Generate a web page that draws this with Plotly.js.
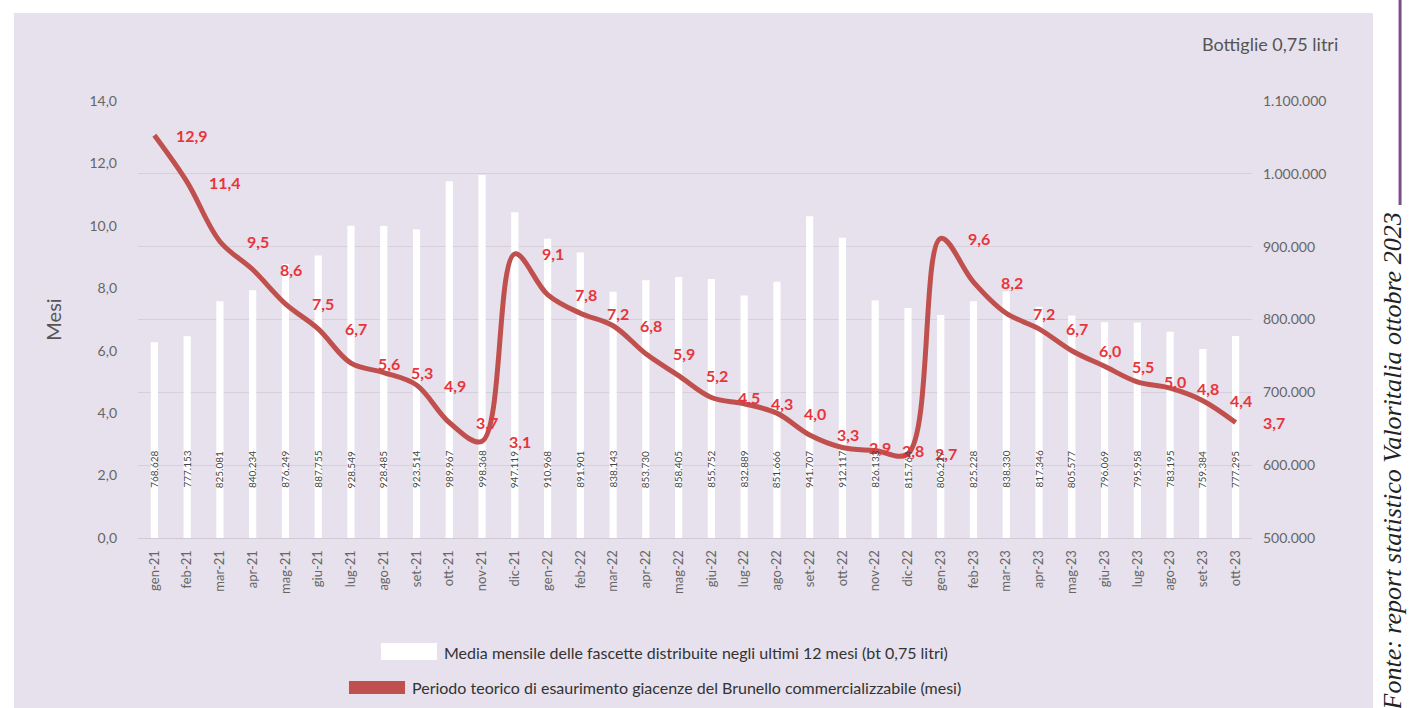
<!DOCTYPE html>
<html>
<head>
<meta charset="utf-8">
<script src="https://cdn.plot.ly/plotly-3.0.1.min.js"></script>
<style>
html,body{margin:0;padding:0;background:#ffffff;width:1410px;height:708px;overflow:hidden;}
#panel{position:absolute;left:14px;top:13px;width:1359px;height:695px;background:#e6e1ec;}
#chart{position:absolute;left:0;top:0;width:1410px;height:708px;}
</style>
</head>
<body>
<div id="panel"></div>
<div id="chart"></div>
<script>
const months = ["gen-21","feb-21","mar-21","apr-21","mag-21","giu-21","lug-21","ago-21","set-21","ott-21","nov-21","dic-21",
"gen-22","feb-22","mar-22","apr-22","mag-22","giu-22","lug-22","ago-22","set-22","ott-22","nov-22","dic-22",
"gen-23","feb-23","mar-23","apr-23","mag-23","giu-23","lug-23","ago-23","set-23","ott-23"];

const fascette = [768628,777153,825081,840234,876249,887755,928549,928485,923514,989967,998368,947119,
910968,891901,838143,853730,858405,855752,832889,851666,941707,912117,826133,815764,
806227,825228,838330,817346,805577,796069,795958,783195,759384,777295];

const mesi = [12.9,11.4,9.5,8.6,7.5,6.7,5.6,5.3,4.9,3.7,3.1,9.1,
7.8,7.2,6.8,5.9,5.2,4.5,4.3,4.0,3.3,2.9,2.8,2.7,
9.6,8.2,7.2,6.7,6.0,5.5,5.0,4.8,4.4,3.7];

const legendBars = "Media mensile delle fascette distribuite negli ultimi 12 mesi (bt 0,75 litri)";
const legendLine = "Periodo teorico di esaurimento giacenze del Brunello commercializzabile (mesi)";
const unitNote = "Bottiglie 0,75 litri";
const sourceNote = "Fonte: report statistico Valoritalia ottobre 2023";

function fmtThousands(n){ return String(n).replace(/\B(?=(\d{3})+(?!\d))/g, "."); }
function fmtDec(v){ return v.toFixed(1).replace(".", ","); }

const FONT = "Lato, 'Open Sans', sans-serif";

const barTrace = {
  type: "bar", x: months, y: fascette, yaxis: "y",
  marker: {color: "#ffffff"}, width: 0.22, hoverinfo: "skip", showlegend: false
};
const lineTrace = {
  type: "scatter", mode: "lines", x: months, y: mesi, yaxis: "y2",
  line: {color: "#c0504d", width: 5, shape: "spline", smoothing: 1.0},
  hoverinfo: "skip", showlegend: false
};

const annotations = [];
months.forEach((m, i) => {
  annotations.push({
    x: m, xref: "x", y: 0.11, yref: "paper", text: fmtThousands(fascette[i]),
    textangle: -90, showarrow: false, font: {family: FONT, size: 10, color: "#444444"}
  });
  annotations.push({
    x: m, xref: "x", y: mesi[i], yref: "y2", text: fmtDec(mesi[i]), xshift: 38,
    showarrow: false, font: {family: FONT, size: 16, color: "#e8353b", weight: 700}
  });
});
annotations.push({x: 1.079, xref: "paper", y: 1.130, yref: "paper", xanchor: "right", yanchor: "middle",
  text: unitNote, showarrow: false, font: {family: FONT, size: 18, color: "#555555"}});
annotations.push({x: 0.2729, xref: "paper", y: -0.2609, yref: "paper", xanchor: "left", yanchor: "middle",
  text: legendBars, showarrow: false, font: {family: FONT, size: 16, color: "#333333"}});
annotations.push({x: 0.2442, xref: "paper", y: -0.3432, yref: "paper", xanchor: "left", yanchor: "middle",
  text: legendLine, showarrow: false, font: {family: FONT, size: 16, color: "#333333"}});
annotations.push({x: 1.127, xref: "paper", y: 0.7506, yref: "paper", xanchor: "center", yanchor: "top",
  text: "<i>" + sourceNote + "</i>", textangle: -90, showarrow: false,
  font: {family: "'Liberation Serif', 'DejaVu Serif', serif", size: 26, color: "#222222"}});

const shapes = [
  {type: "rect", xref: "paper", yref: "paper", x0: 0.2181, x1: 0.2684, y0: -0.2792, y1: -0.2403,
   fillcolor: "#ffffff", line: {width: 0}},
  {type: "rect", xref: "paper", yref: "paper", x0: 0.1894, x1: 0.2397, y0: -0.357, y1: -0.3272,
   fillcolor: "#c0504d", line: {width: 0}},
  {type: "line", xref: "paper", yref: "paper", x0: 1.1329, x1: 1.1329, y0: 0.762, y1: 1.25,
   line: {color: "#7b4f8a", width: 3}}
];

const layout = {
  width: 1410, height: 708, autosize: false,
  margin: {l: 138, r: 158, t: 101, b: 170},
  paper_bgcolor: "rgba(0,0,0,0)", plot_bgcolor: "rgba(0,0,0,0)",
  separators: ",.",
  font: {family: FONT, color: "#666666"},
  showlegend: false,
  xaxis: {
    type: "category", range: [-0.5, months.length - 0.5], autorange: false,
    tickangle: -90, tickfont: {family: FONT, size: 13, color: "#666666"},
    showgrid: false, showline: true, linecolor: "#cfcad4", linewidth: 1,
    ticks: "", ticklabelstandoff: 6, fixedrange: true
  },
  yaxis: {
    side: "right", range: [500000, 1100000], tickvals: [500000,600000,700000,800000,900000,1000000,1100000],
    tickformat: ",d", tickfont: {family: FONT, size: 14, color: "#666666"},
    showgrid: true, gridcolor: "#d5d0da", gridwidth: 1, zeroline: false, ticks: "",
    ticklabelstandoff: 10, showline: false
  },
  yaxis2: {
    side: "left", overlaying: "y", range: [0, 14], tickvals: [0,2,4,6,8,10,12,14],
    tickformat: ".1f", tickfont: {family: FONT, size: 14, color: "#666666"},
    showgrid: false, zeroline: false, ticks: "", ticklabelstandoff: 20,
    title: {text: "Mesi", font: {family: FONT, size: 20, color: "#555555"}, standoff: 22}
  },
  annotations: annotations,
  shapes: shapes
};

Plotly.newPlot("chart", [barTrace, lineTrace], layout, {staticPlot: true, displayModeBar: false});
</script>
</body>
</html>
